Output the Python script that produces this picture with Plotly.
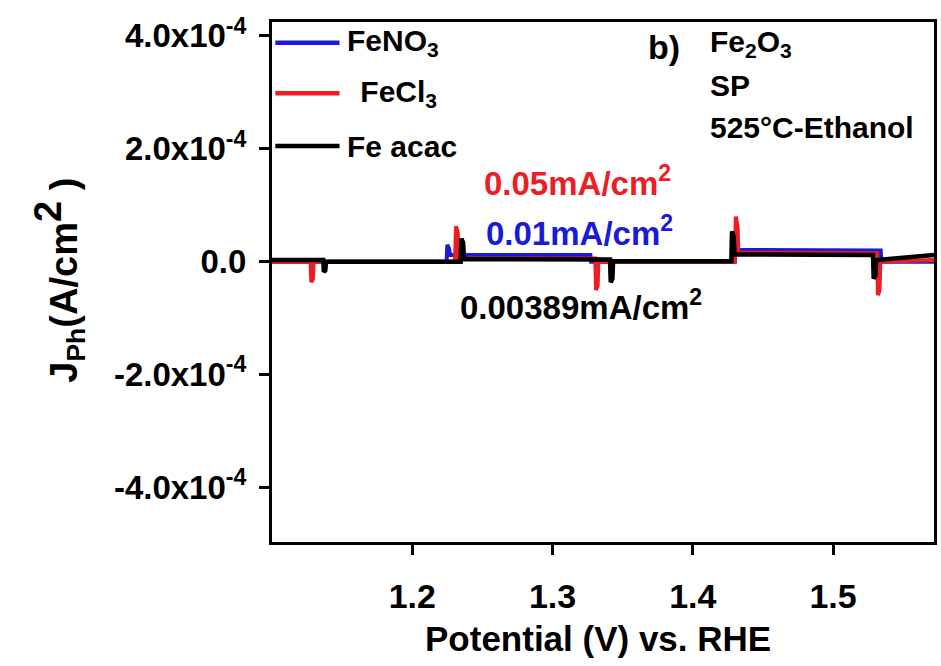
import plotly.graph_objects as go

# ---- data ----
feno3_x = [1.100, 1.2245, 1.2250, 1.2262, 1.2270, 1.3270, 1.3275, 1.4300, 1.4305, 1.4322, 1.5340, 1.5345, 1.572]
feno3_y = [0.0, 0.0, 3.0e-5, 2.4e-5, 1.2e-5, 1.2e-5, 0.0, 0.0, 4.0e-5, 2.1e-5, 2.0e-5, 0.0, 0.0]

fecl3_x = [1.100, 1.1275, 1.1280, 1.1292, 1.1297, 1.2305, 1.2312, 1.2325, 1.2330, 1.3305, 1.3310,
           1.3322, 1.3327, 1.4300, 1.4307, 1.4320, 1.4325, 1.5315, 1.5320, 1.5332, 1.5337, 1.572]
fecl3_y = [0.0, 0.0, -3.6e-5, -3.0e-5, 0.0, 0.0, 6.3e-5, 5.0e-5, 6.0e-6, 6.0e-6, -5.0e-5,
           -4.2e-5, 0.0, 0.0, 8.0e-5, 6.0e-5, 1.6e-5, 1.5e-5, -5.9e-5, -5.0e-5, 0.0, 3.0e-6]

feacac_x = [1.100, 1.1365, 1.1370, 1.1380, 1.1385, 1.2345, 1.2350, 1.2362, 1.2370, 1.3410, 1.3415,
            1.3427, 1.3432, 1.4275, 1.4280, 1.4292, 1.4298, 1.5285, 1.5290, 1.5302, 1.5307, 1.572]
feacac_y = [3.0e-6, 3.0e-6, -1.8e-5, -1.5e-5, 0.0, 0.0, 4.1e-5, 3.4e-5, 5.0e-6, 4.0e-6, -3.6e-5,
            -3.0e-5, 1.0e-6, 1.0e-6, 5.4e-5, 4.4e-5, 1.3e-5, 1.2e-5, -3.0e-5, -2.4e-5, 3.0e-6, 1.2e-5]

series_names = ["FeNO<sub>3</sub>", " FeCl<sub>3</sub>", "Fe acac"]
series_colors = ["#1a1adb", "#ee1c25", "#000000"]

y_tickvals = [-4e-4, -2e-4, 0.0, 2e-4, 4e-4]
y_ticktext = ["-4.0x10<sup>-4</sup>", "-2.0x10<sup>-4</sup>", "0.0", "2.0x10<sup>-4</sup>", "4.0x10<sup>-4</sup>"]
x_tickvals = [1.2, 1.3, 1.4, 1.5]
x_ticktext = ["1.2", "1.3", "1.4", "1.5"]

FONT = "Liberation Sans, Arial, sans-serif"

fig = go.Figure()
for xs, ys, name, col, w in [
    (feno3_x, feno3_y, series_names[0], series_colors[0], 4),
    (fecl3_x, fecl3_y, series_names[1], series_colors[1], 4),
    (feacac_x, feacac_y, series_names[2], series_colors[2], 4.5),
]:
    fig.add_trace(go.Scatter(x=xs, y=ys, mode="lines", name=name,
                             line=dict(color=col, width=w), showlegend=False))

# manual legend (top-left, inside plot)
leg_y = [0.960, 0.863, 0.7615]
leg_tx = [0.110, 0.118, 0.110]
for i in range(3):
    fig.add_shape(type="line", xref="paper", yref="paper", x0=0.005, x1=0.102,
                  y0=leg_y[i], y1=leg_y[i], line=dict(color=series_colors[i], width=4.5))
    fig.add_annotation(xref="paper", yref="paper", x=leg_tx[i], y=leg_y[i],
                       text="<b>" + series_names[i] + "</b>", showarrow=False,
                       xanchor="left", yanchor="middle",
                       font=dict(family=FONT, size=30, color="black"))

# value annotations
fig.add_annotation(x=1.318, y=1.43e-4, text="<b>0.05mA/cm<sup>2</sup></b>", showarrow=False,
                   xanchor="center", yanchor="middle",
                   font=dict(family=FONT, size=33, color="#ee1c25"))
fig.add_annotation(x=1.319, y=5.4e-5, text="<b>0.01mA/cm<sup>2</sup></b>", showarrow=False,
                   xanchor="center", yanchor="middle",
                   font=dict(family=FONT, size=33, color="#1a1adb"))
fig.add_annotation(x=1.3205, y=-7.7e-5, text="<b>0.00389mA/cm<sup>2</sup></b>", showarrow=False,
                   xanchor="center", yanchor="middle",
                   font=dict(family=FONT, size=33, color="black"))

# panel labels
fig.add_annotation(xref="paper", yref="paper", x=0.592, y=0.952, text="<b>b)</b>", showarrow=False,
                   xanchor="center", yanchor="middle",
                   font=dict(family=FONT, size=34, color="black"))
for txt, yy in [("<b>Fe<sub>2</sub>O<sub>3</sub></b>", 0.958), ("<b>SP</b>", 0.877),
                ("<b>525°C-Ethanol</b>", 0.798)]:
    fig.add_annotation(xref="paper", yref="paper", x=0.659, y=yy, text=txt, showarrow=False,
                       xanchor="left", yanchor="middle",
                       font=dict(family=FONT, size=30, color="black"))

# axis titles
fig.add_annotation(xref="paper", yref="paper", x=0.493, y=-0.185,
                   text="<b>Potential (V) vs. RHE</b>", showarrow=False,
                   xanchor="center", yanchor="middle",
                   font=dict(family=FONT, size=35, color="black"))
fig.add_annotation(xref="paper", yref="paper", x=-0.322, y=0.504, textangle=-90,
                   text="<b>J<sub>Ph</sub>(A/cm<sup><span style='font-size:38px'>2</span></sup> )</b>",
                   showarrow=False, xanchor="center", yanchor="middle",
                   font=dict(family=FONT, size=38, color="black"))

fig.update_layout(
    width=941, height=666,
    margin=dict(l=272, r=4, t=22, b=124),
    paper_bgcolor="white", plot_bgcolor="white",
    showlegend=False,
)
fig.update_xaxes(range=[1.10, 1.572], tickvals=x_tickvals, ticktext=x_ticktext,
                 ticks="outside", ticklen=10, tickwidth=3, tickcolor="black",
                 ticklabelstandoff=12,
                 showline=True, linewidth=3, linecolor="black", mirror=True,
                 showgrid=False, zeroline=False,
                 tickfont=dict(family=FONT, size=34, color="black", weight="bold"))
fig.update_yaxes(range=[-4.96e-4, 4.245e-4], tickvals=y_tickvals, ticktext=y_ticktext,
                 ticks="outside", ticklen=10, tickwidth=3, tickcolor="black",
                 ticklabelstandoff=6,
                 showline=True, linewidth=3, linecolor="black", mirror=True,
                 showgrid=False, zeroline=False,
                 tickfont=dict(family=FONT, size=33, color="black", weight="bold"))

fig.write_html("out.html")
